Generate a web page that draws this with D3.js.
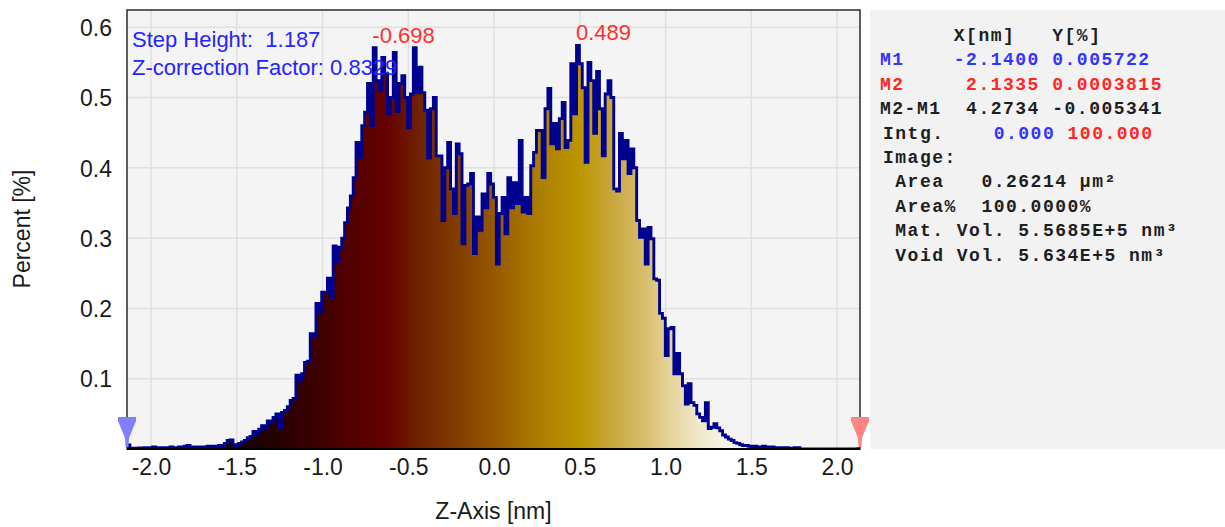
<!DOCTYPE html>
<html>
<head>
<meta charset="utf-8">
<script src="https://cdn.jsdelivr.net/npm/d3@7"></script>
<style>
  body { margin: 0; background: #fff; }
  svg { display: block; }
  text { font-family: Arial, "Liberation Sans", sans-serif; }
  .mono { font-family: "Liberation Mono", "Courier New", monospace; font-weight: bold; white-space: pre; }
</style>
</head>
<body>
<svg id="chart" width="1225" height="527"></svg>
<script>
// height histogram, 256 bins between the two markers
const zRange = [-2.14, 2.1335];
const percent = [
  0.0057,
  0.001, 0, 0.001, 0.0015, 0.001, 0.002, 0.001, 0.002, 0.003, 0.002,
  0.002, 0.001, 0.002, 0.002, 0.003, 0.002, 0.002, 0.003, 0.002, 0.004,
  0.005, 0.003, 0.002, 0.003, 0.003, 0.002, 0.003, 0.004, 0.003, 0.004,
  0.004, 0.005, 0.004, 0.008, 0.012, 0.013, 0.006, 0.005, 0.008, 0.010,
  0.012, 0.016, 0.018, 0.025, 0.022, 0.028, 0.033, 0.030, 0.040, 0.038,
  0.045, 0.050, 0.030, 0.052, 0.055, 0.060, 0.069, 0.072, 0.105, 0.097,
  0.107, 0.123, 0.125, 0.164, 0.160, 0.207, 0.195, 0.223, 0.223, 0.243,
  0.215, 0.289, 0.265, 0.287, 0.300, 0.322, 0.343, 0.360, 0.386, 0.436,
  0.415, 0.460, 0.479, 0.520, 0.460, 0.571, 0.524, 0.510, 0.557, 0.534,
  0.477, 0.500, 0.564, 0.480, 0.520, 0.531, 0.500, 0.457, 0.505, 0.571,
  0.507, 0.543, 0.507, 0.482, 0.414, 0.484, 0.500, 0.417, 0.417, 0.325,
  0.400, 0.436, 0.370, 0.335, 0.434, 0.420, 0.292, 0.375, 0.377, 0.392,
  0.278, 0.330, 0.311, 0.363, 0.343, 0.392, 0.377, 0.358, 0.263, 0.335,
  0.358, 0.306, 0.386, 0.343, 0.379, 0.349, 0.439, 0.337, 0.358, 0.335,
  0.403, 0.422, 0.453, 0.453, 0.386, 0.484, 0.513, 0.434, 0.463, 0.427,
  0.470, 0.493, 0.429, 0.439, 0.548, 0.477, 0.574, 0.548, 0.514, 0.408,
  0.550, 0.524, 0.449, 0.537, 0.484, 0.417, 0.505, 0.524, 0.500, 0.370,
  0.367, 0.449, 0.413, 0.439, 0.392, 0.427, 0.400, 0.325, 0.301, 0.313,
  0.263, 0.315, 0.299, 0.242, 0.240, 0.193, 0.186, 0.133, 0.171, 0.173,
  0.107, 0.136, 0.107, 0.090, 0.064, 0.093, 0.066, 0.062, 0.050, 0.045,
  0.040, 0.066, 0.029, 0.031, 0.036, 0.030, 0.026, 0.020, 0.017, 0.014,
  0.012, 0.009, 0.008, 0.006, 0.005, 0.005, 0.004, 0.003, 0.004, 0.002,
  0.003, 0.004, 0.002, 0.003, 0.003, 0.002, 0.001, 0.002, 0, 0.002,
  0, 0.001, 0.002, 0.002, 0, 0, 0, 0, 0, 0,
  0, 0, 0, 0, 0, 0, 0, 0, 0, 0,
  0, 0, 0, 0, 0.00038
];
const xTicks = [-2.0, -1.5, -1.0, -0.5, 0.0, 0.5, 1.0, 1.5, 2.0];
const yTicks = [0.1, 0.2, 0.3, 0.4, 0.5, 0.6];
const peakZ = [-0.698, 0.489];
const peakPct = [0.571, 0.574];
const markerZ = [-2.14, 2.1335];

// colour map of the fill along Z
const colorZ = [-1.4, -1.2, -1.0, -0.8, -0.62, -0.45, -0.25, 0.0, 0.25, 0.5, 0.7, 0.9, 1.05, 1.2, 1.35];
const colorHex = ["#1c0000", "#2c0000", "#420000", "#560000", "#660000", "#702000", "#803800",
  "#965800", "#ab7c00", "#bc9500", "#c9a840", "#d9c172", "#e6d6a2", "#f1e9cc", "#f6f3ea"];

// info panel: each line is a list of [text, colour] pieces
const infoTop = [
  [["      X[nm]   Y[%]", "ink"]],
  [["M1    -2.1400 0.005722", "blue"]],
  [["M2     2.1335 0.0003815", "red"]],
  [["M2-M1  4.2734 -0.005341", "ink"]]
];
const infoBottom = [
  [["Intg.    ", "ink"], ["0.000", "blue"], [" ", "ink"], ["100.000", "red"]],
  [["Image:", "ink"]],
  [[" Area   0.26214 µm²", "ink"]],
  [[" Area%  100.0000%", "ink"]],
  [[" Mat. Vol. 5.5685E+5 nm³", "ink"]],
  [[" Void Vol. 5.634E+5 nm³", "ink"]]
];
const inkColor = { ink: "#1e1e1e", blue: "#3434ff", red: "#ff2626" };

const svg = d3.select("#chart");
const plotL = 127, plotR = 860, plotT = 10, plotB = 449;

const x = d3.scaleLinear().domain(zRange).range([plotL, plotR]);
const y = d3.scaleLinear().domain([0, 0.6245]).range([plotB, plotT]);

let defs = svg.append("defs");
defs.append("clipPath").attr("id", "plotClip")
  .append("rect").attr("x", plotL).attr("y", plotT).attr("width", plotR - plotL).attr("height", plotB - plotT);

let grad = defs.append("linearGradient")
  .attr("id", "zFill")
  .attr("gradientUnits", "userSpaceOnUse")
  .attr("x1", x(colorZ[0])).attr("x2", x(colorZ[colorZ.length - 1]))
  .attr("y1", 0).attr("y2", 0);
grad.selectAll("stop")
  .data(colorZ)
  .join("stop")
  .attr("offset", d => (d - colorZ[0]) / (colorZ[colorZ.length - 1] - colorZ[0]))
  .attr("stop-color", (d, i) => colorHex[i]);

// plot background + grid
svg.append("rect")
  .attr("x", plotL).attr("y", plotT).attr("width", plotR - plotL).attr("height", plotB - plotT)
  .attr("fill", "#f4f4f4");

svg.append("g").selectAll("line")
  .data(xTicks)
  .join("line")
  .attr("x1", d => x(d)).attr("x2", d => x(d))
  .attr("y1", plotT).attr("y2", plotB)
  .attr("stroke", "#e0e0e0").attr("stroke-width", 1.5);

svg.append("g").selectAll("line")
  .data(yTicks)
  .join("line")
  .attr("x1", plotL).attr("x2", plotR)
  .attr("y1", d => y(d)).attr("y2", d => y(d))
  .attr("stroke", "#e0e0e0").attr("stroke-width", 1.5);

// histogram as steps
const binW = (zRange[1] - zRange[0]) / percent.length;
let pts = percent.map((p, i) => [zRange[0] + i * binW, p]);
pts.push([zRange[1], percent[percent.length - 1]]);

let plot = svg.append("g").attr("clip-path", "url(#plotClip)");

plot.append("path")
  .datum(pts)
  .attr("fill", "url(#zFill)")
  .attr("d", d3.area().x(d => x(d[0])).y0(y(0)).y1(d => y(d[1])).curve(d3.curveStepAfter));

plot.append("path")
  .datum(pts)
  .attr("fill", "none")
  .attr("stroke", "#00008f")
  .attr("stroke-width", 2.9)
  .attr("d", d3.line().x(d => x(d[0])).y(d => y(d[1])).curve(d3.curveStepAfter));

// frame
svg.append("rect")
  .attr("x", plotL).attr("y", plotT).attr("width", plotR - plotL).attr("height", plotB - plotT)
  .attr("fill", "none").attr("stroke", "#2a2a2a").attr("stroke-width", 1.5);
svg.append("line")
  .attr("x1", plotL).attr("x2", plotR).attr("y1", plotB).attr("y2", plotB)
  .attr("stroke", "#000").attr("stroke-width", 2);

// axes
let xAxis = svg.append("g")
  .attr("transform", `translate(0,${plotB})`)
  .call(d3.axisBottom(x).tickValues(xTicks).tickSize(0).tickFormat(d => d.toFixed(1)));
xAxis.select(".domain").remove();
xAxis.selectAll("text")
  .attr("y", 26).attr("dy", 0)
  .attr("fill", "#1a1a1a")
  .style("font-size", "23px")
  .style("font-family", "Arial, 'Liberation Sans', sans-serif");

let yAxis = svg.append("g")
  .attr("transform", `translate(${plotL},0)`)
  .call(d3.axisLeft(y).tickValues(yTicks).tickSize(0).tickPadding(15).tickFormat(d => d.toFixed(1)));
yAxis.select(".domain").remove();
yAxis.selectAll("text")
  .attr("dy", "0.36em")
  .attr("fill", "#1a1a1a")
  .style("font-size", "23px")
  .style("font-family", "Arial, 'Liberation Sans', sans-serif");

svg.append("text")
  .attr("x", (plotL + plotR) / 2).attr("y", 519)
  .attr("text-anchor", "middle")
  .attr("font-size", 23).attr("fill", "#1a1a1a")
  .text("Z-Axis [nm]");

svg.append("text")
  .attr("transform", "translate(30,229) rotate(-90)")
  .attr("text-anchor", "middle")
  .attr("font-size", 23).attr("fill", "#1a1a1a")
  .text("Percent [%]");

// step height annotation
svg.append("text")
  .attr("x", 132).attr("y", 47)
  .attr("font-size", 22).attr("fill", "#2424ff")
  .style("white-space", "pre")
  .text("Step Height:  1.187");
svg.append("text")
  .attr("x", 132).attr("y", 75)
  .attr("font-size", 22).attr("fill", "#2424ff")
  .text("Z-correction Factor: 0.8329");

// peak labels
svg.append("g").selectAll("text")
  .data(peakZ)
  .join("text")
  .attr("x", d => x(d) - 2)
  .attr("y", (d, i) => y(peakPct[i]) - 5)
  .attr("font-size", 22).attr("fill", "#ff3030")
  .text(d => d.toFixed(3));

// cursor markers
const markerColor = ["#8080ff", "#ff8585"];
svg.append("g").selectAll("path")
  .data(markerZ)
  .join("path")
  .attr("transform", d => `translate(${x(d)},0)`)
  .attr("fill", (d, i) => markerColor[i])
  .attr("d", "M-9,417 L9,417 L9,421 L2,438 L1.5,447 L-1.5,447 L-2,438 L-9,421 Z");

// info panel
svg.append("rect")
  .attr("x", 870).attr("y", 10).attr("width", 355).attr("height", 439)
  .attr("fill", "#f2f2f2");

function drawLines(lines, x0, firstRow) {
  lines.forEach((pieces, r) => {
    let t = svg.append("text")
      .classed("mono", true)
      .attr("x", x0)
      .attr("y", 41 + (firstRow + r) * 24.4)
      .attr("font-size", 18)
      .attr("letter-spacing", 1.5);
    pieces.forEach(p => {
      t.append("tspan").attr("fill", inkColor[p[1]]).text(p[0]);
    });
  });
}
drawLines(infoTop, 880, 0);
drawLines(infoBottom, 883, infoTop.length);
</script>
</body>
</html>
